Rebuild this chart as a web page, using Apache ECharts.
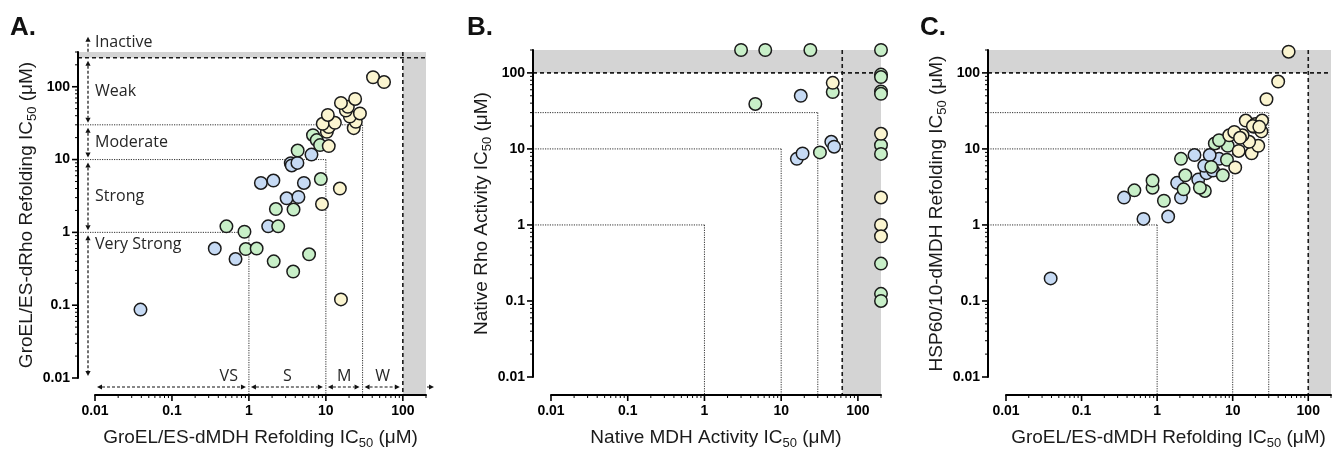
<!DOCTYPE html>
<html>
<head>
<meta charset="utf-8">
<title>GroEL/ES inhibitor IC50 comparison</title>
<script src="https://cdn.jsdelivr.net/npm/echarts@6/dist/echarts.min.js"></script>
<style>
  html, body { margin: 0; padding: 0; background: #fff; }
  #chart { width: 1334px; height: 455px; }
</style>
</head>
<body>
<div id="chart"></div>
<script>
// log axis labels, shared by all panels
const tickValues = [0.01, 0.1, 1, 10, 100];
const tickLabels = ['0.01', '0.1', '1', '10', '100'];

// potency cut-offs (uM) drawn as dotted boxes
const cutoffs = [1, 10, 30];
// class bands in panel A
const classEdgesY = [0.01, 1, 10, 30, 250];
const classNamesY = ['Very Strong', 'Strong', 'Moderate', 'Weak'];
const classEdgesX = [0.01, 1, 10, 30, 100];
const classNamesX = ['VS', 'S', 'M', 'W'];

// A. GroEL/ES-dMDH (x) vs GroEL/ES-dRho (y)
const aBlue = [[0.039, 0.087], [0.36, 0.6], [0.67, 0.43], [1.78, 1.21], [1.43, 4.77], [2.08, 5.15],
  [3.09, 2.94], [4.4, 3.06], [5.18, 4.77], [3.5, 8.9], [3.6, 8.3], [4.27, 9.0], [6.5, 11.7]];
const aGreen = [[0.51, 1.21], [0.875, 1.02], [0.91, 0.59], [1.26, 0.6], [2.1, 0.4], [3.76, 0.29],
  [6.05, 0.5], [2.4, 1.21], [2.24, 2.09], [3.8, 2.06], [8.6, 5.4], [4.3, 13.3], [6.8, 21.6],
  [7.6, 18.5], [8.4, 15.8]];
const aYellow = [[15.7, 0.12], [8.9, 2.45], [15.2, 4.0], [10.9, 15.3], [10.3, 24], [10.9, 28],
  [9.1, 31], [13.1, 32], [10.6, 41], [23, 27], [24.5, 33], [20.5, 39], [18.2, 47], [27.7, 43],
  [19.3, 53], [15.7, 60], [24, 68], [41, 135], [57, 116]];

// B. native MDH (x) vs native Rho (y)
const bBlue = [[16, 7.4], [19, 8.7], [45, 12.4], [49, 10.7], [18, 50]];
const bGreen = [[3.0, 200], [6.2, 200], [24, 200], [200, 200], [4.6, 39], [32, 9.0], [47, 56],
  [200, 95], [200, 88], [200, 57], [200, 53], [200, 11.2], [200, 8.6], [200, 0.31], [200, 0.124],
  [200, 0.1]];
const bYellow = [[47, 74], [200, 15.8], [200, 2.3], [200, 1.0], [200, 0.71]];

// C. GroEL/ES-dMDH (x) vs HSP60/10-dMDH (y)
const cBlue = [[0.039, 0.198], [0.66, 1.2], [1.4, 1.29], [0.365, 2.29], [2.07, 2.29], [1.84, 3.58],
  [3.5, 3.95], [4.5, 4.8], [4.2, 6.0], [6.6, 7.4], [3.12, 8.3], [4.96, 8.3], [5.5, 5.2]];
const cGreen = [[0.5, 2.85], [0.87, 3.09], [0.87, 3.84], [1.23, 2.08], [2.24, 2.94], [4.28, 2.8],
  [3.68, 3.09], [2.36, 4.5], [7.4, 4.5], [2.07, 7.4], [8.4, 7.2], [8.6, 11], [5.8, 11.8], [6.6, 13],
  [5.2, 5.8]];
const cYellow = [[10.8, 5.7], [12, 9.4], [17.8, 8.75], [21.8, 11], [16.5, 12.4], [9, 15.1],
  [13.5, 15.1], [10.5, 16.7], [24, 17], [19, 19.5], [14.9, 23.6], [20, 21.3], [24.5, 23.6],
  [12.5, 14], [18.5, 20], [22.5, 19.5], [28, 45], [40, 77], [55, 190]];

const fills = ['#c6daf4', '#c8efc8', '#fbf5d0'];

const panels = [
  { tag: 'A.', tagX: 10, grid: { left: 95, top: 52, width: 331, height: 331 }, off: 17,
    xMax: 200, yMax: 300, xCut: 100, yCut: 250,
    xName: 'GroEL/ES-dMDH Refolding IC{s|50} (μM)',
    yName: 'GroEL/ES-dRho Refolding IC{s|50} (μM)',
    groups: [aBlue, aGreen, aYellow] },
  { tag: 'B.', tagX: 467, grid: { left: 551, top: 50, width: 330, height: 333 }, off: 18,
    xMax: 200, yMax: 200, xCut: 62.5, yCut: 100,
    xName: 'Native MDH Activity IC{s|50} (μM)',
    yName: 'Native Rho Activity IC{s|50} (μM)',
    groups: [bBlue, bGreen, bYellow] },
  { tag: 'C.', tagX: 920, grid: { left: 1006, top: 50, width: 331, height: 333 }, off: 18,
    xMax: 200, yMax: 200, xCut: 100, yCut: 100,
    xName: 'GroEL/ES-dMDH Refolding IC{s|50} (μM)',
    yName: 'HSP60/10-dMDH Refolding IC{s|50} (μM)',
    groups: [cBlue, cGreen, cYellow] }
];

function tickLabel(v) {
  const i = tickValues.findIndex(t => Math.abs(Math.log10(v) - Math.log10(t)) < 1e-6);
  return i < 0 ? '' : tickLabels[i];
}

const nameStyle = {
  fontSize: 19, fontFamily: 'Liberation Sans', color: '#1a1a1a', lineHeight: 24,
  rich: { s: { fontSize: 13, lineHeight: 13, fontFamily: 'Liberation Sans', color: '#1a1a1a', verticalAlign: 'bottom' } }
};
const labelStyle = { color: '#000', fontWeight: 'bold', fontSize: 14, fontFamily: 'Liberation Sans' };

// grey "inactive" bands, cut-off lines and GraphPad-style log ticks
function frameRender(p) {
  return function (params, api) {
    const pt = (x, y) => api.coord([x, y]);
    const o = pt(0.01, 0.01);
    const tr = pt(p.xMax, p.yMax);
    const cut = pt(p.xCut, p.yCut);
    const ax = o[0] - p.off, ay = o[1] + p.off;
    const kids = [];
    const seg = (x1, y1, x2, y2, style) => kids.push({ type: 'line', shape: { x1, y1, x2, y2 }, style });
    const grey = { fill: '#d4d4d4' };
    kids.push({ type: 'rect', shape: { x: ax, y: tr[1], width: tr[0] - ax, height: cut[1] - tr[1] }, style: grey });
    kids.push({ type: 'rect', shape: { x: cut[0], y: tr[1], width: tr[0] - cut[0], height: ay - tr[1] }, style: grey });
    const dotted = { stroke: '#333', lineWidth: 1, lineDash: [1.2, 1.2] };
    const dashed = { stroke: '#1a1a1a', lineWidth: 1.6, lineDash: [4, 3] };
    cutoffs.forEach(c => {
      const q = pt(c, c);
      seg(ax, q[1], q[0], q[1], dotted);
      seg(q[0], q[1], q[0], ay, dotted);
    });
    seg(ax, cut[1], tr[0], cut[1], dashed);
    seg(cut[0], tr[1], cut[0], ay, dashed);
    for (let e = -2; e <= 2; e++) {
      for (let k = 1; k <= 9; k++) {
        const v = k * Math.pow(10, e);
        const len = k === 1 ? 6 : 3;
        const st = { stroke: '#000', lineWidth: k === 1 ? 1.6 : 1 };
        if (v <= p.xMax * 1.0001) { const x = pt(v, 0.01)[0]; seg(x, ay, x, ay + len, st); }
        if (v <= p.yMax * 1.0001) { const y = pt(0.01, v)[1]; seg(ax, y, ax - len, y, st); }
      }
    }
    return { type: 'group', children: kids };
  };
}

// class arrows and labels of panel A
function annotRender(params, api) {
  const pt = (x, y) => api.coord([x, y]);
  const o = pt(0.01, 0.01);
  const off = panels[0].off;
  const ax = o[0] - off, ay = o[1] + off;
  const kids = [];
  const ink = '#111';
  const head = (x, y, dx, dy) => {
    const L = 5, W = 2.6;
    const bx = x - dx * L, by = y - dy * L;
    kids.push({ type: 'polygon', shape: { points: [[x, y], [bx - dy * W, by + dx * W], [bx + dy * W, by - dx * W]] }, style: { fill: ink } });
  };
  const arrow = (x1, y1, x2, y2, both) => {
    const d = Math.hypot(x2 - x1, y2 - y1), dx = (x2 - x1) / d, dy = (y2 - y1) / d;
    const s = both ? 5 : 0;
    kids.push({ type: 'line', shape: { x1: x1 + dx * s, y1: y1 + dy * s, x2: x2 - dx * 5, y2: y2 - dy * 5 },
      style: { stroke: ink, lineWidth: 1.2, lineDash: [3, 2] } });
    head(x2, y2, dx, dy);
    if (both) head(x1, y1, -dx, -dy);
  };
  const text = (t, x, y, align) => kids.push({ type: 'text', style: {
    text: t, x, y, fill: '#262626', font: '16px "Open Sans"',
    align, verticalAlign: 'middle', textAlign: align, textVerticalAlign: 'middle' } });

  const vx = ax + 10;
  for (let i = 0; i < classNamesY.length; i++) {
    const yb = pt(0.01, classEdgesY[i])[1], yt = pt(0.01, classEdgesY[i + 1])[1];
    arrow(vx, yt + 3, vx, yb - 2, true);
    text(classNamesY[i], o[0], i === 0 ? yt + 12 : (yt + yb) / 2, 'left');
  }
  const yi = pt(0.01, classEdgesY[classEdgesY.length - 1])[1];
  arrow(vx, yi - 6, vx, yi - 21, false);
  text('Inactive', o[0], yi - 15, 'left');

  const hy = ay - 8;
  for (let i = 0; i < classNamesX.length; i++) {
    const xl = pt(classEdgesX[i], 0.01)[0], xr = pt(classEdgesX[i + 1], 0.01)[0];
    arrow(xl + 2, hy, xr - 3, hy, true);
    if (i === 0) text(classNamesX[i], xr - 11, hy - 11, 'right');
    else text(classNamesX[i], (xl + xr) / 2, hy - 11, 'center');
  }
  const xe = pt(panels[0].xMax, 0.01)[0];
  arrow(xe + 1, hy, xe + 8, hy, false);
  return { type: 'group', children: kids };
}

const series = [];
panels.forEach((p, i) => {
  series.push({ type: 'custom', coordinateSystem: 'cartesian2d', xAxisIndex: i, yAxisIndex: i,
    data: [[0.01, 0.01]], renderItem: frameRender(p), clip: false, silent: true, z: 1 });
  p.groups.forEach((g, k) => {
    series.push({ type: 'scatter', xAxisIndex: i, yAxisIndex: i, data: g, symbol: 'circle', symbolSize: 12.5,
      itemStyle: { color: fills[k], borderColor: '#1b1b1b', borderWidth: 1.5, opacity: 1 },
      clip: false, silent: true, z: 10 });
  });
});
series.push({ type: 'custom', coordinateSystem: 'cartesian2d', xAxisIndex: 0, yAxisIndex: 0,
  data: [[0.01, 0.01]], renderItem: annotRender, clip: false, silent: true, z: 3 });

const option = {
  animation: false,
  backgroundColor: '#fff',
  title: panels.map(p => ({ text: p.tag, left: p.tagX, top: 15, padding: 0,
    textStyle: { fontSize: 26, fontWeight: 'bold', fontFamily: 'Liberation Sans', color: '#111' } })),
  grid: panels.map(p => p.grid),
  xAxis: panels.map((p, i) => ({
    type: 'log', logBase: 10, gridIndex: i, min: 0.01, max: p.xMax, offset: p.off,
    name: p.xName, nameLocation: 'middle', nameGap: 31, nameTextStyle: nameStyle,
    axisLine: { onZero: false, lineStyle: { color: '#000', width: 2 } },
    axisTick: { show: false }, minorTick: { show: false }, splitLine: { show: false },
    axisLabel: Object.assign({ formatter: tickLabel, margin: 9 }, labelStyle), z: 5
  })),
  yAxis: panels.map((p, i) => ({
    type: 'log', logBase: 10, gridIndex: i, min: 0.01, max: p.yMax, offset: p.off,
    name: p.yName, nameLocation: 'middle', nameGap: 38, nameTextStyle: nameStyle,
    axisLine: { onZero: false, lineStyle: { color: '#000', width: 2 } },
    axisTick: { show: false }, minorTick: { show: false }, splitLine: { show: false },
    axisLabel: Object.assign({ formatter: tickLabel, margin: 8 }, labelStyle), z: 5
  })),
  series
};

const chart = echarts.init(document.getElementById('chart'));
chart.setOption(option);
</script>
</body>
</html>
